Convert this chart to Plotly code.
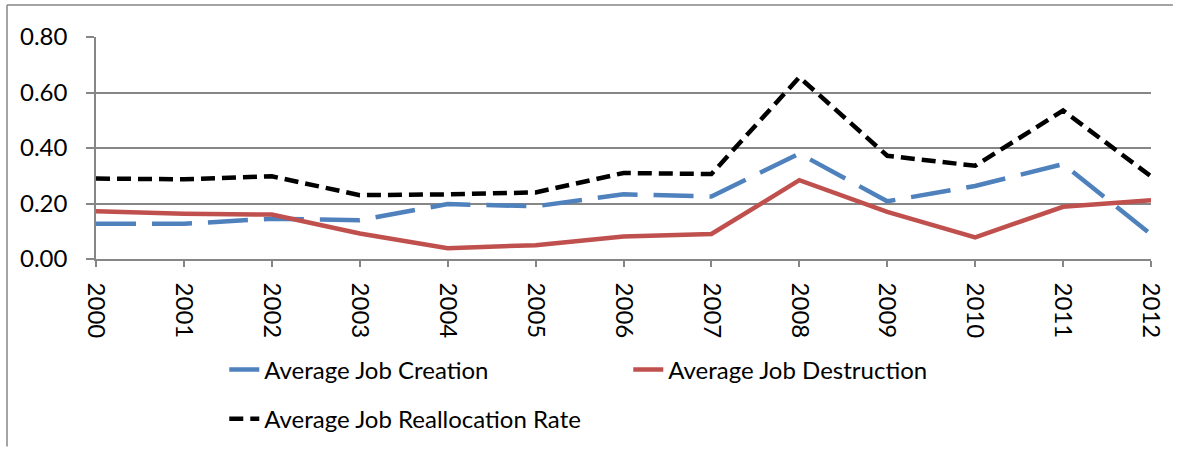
import plotly.graph_objects as go

years = list(range(2000, 2013))
job_creation = [0.127, 0.127, 0.145, 0.140, 0.198, 0.190, 0.233, 0.225, 0.380, 0.208, 0.263, 0.342, 0.089]
job_destruction = [0.172, 0.163, 0.160, 0.092, 0.039, 0.050, 0.081, 0.090, 0.284, 0.170, 0.078, 0.188, 0.212]
job_reallocation = [0.290, 0.287, 0.298, 0.230, 0.233, 0.240, 0.310, 0.306, 0.655, 0.372, 0.336, 0.535, 0.298]
y_ticks = [0.0, 0.2, 0.4, 0.6, 0.8]
y_ticklabels = ["0.00", "0.20", "0.40", "0.60", "0.80"]

FONT = "Lato"
W, H = 1179, 454
ml, mr, mt, mb = 96, 22, 37, 191
pw, ph = W - ml - mr, H - mt - mb

def px_to_paper_x(px):
    return (px - ml) / pw

def px_to_paper_y(py):
    return 1 - (py - mt) / ph

fig = go.Figure()
fig.add_trace(go.Scatter(x=years, y=job_creation, mode="lines", name="Average Job Creation",
                         line=dict(color="#4F81BD", width=4.5, dash="40px,16px"), legend="legend"))
fig.add_trace(go.Scatter(x=years, y=job_destruction, mode="lines", name="Average Job Destruction",
                         line=dict(color="#C0504D", width=4.5), legend="legend"))
fig.add_trace(go.Scatter(x=years, y=job_reallocation, mode="lines", name="Average Job Reallocation Rate",
                         line=dict(color="#000000", width=4.5, dash="14px,7px"), legend="legend2"))

# outer frame (only top and left edges visible in the crop)
frame = dict(color="#868686", width=1.5)
fig.add_shape(type="line", xref="paper", yref="paper",
              x0=px_to_paper_x(6.5), x1=px_to_paper_x(1179), y0=px_to_paper_y(4.5), y1=px_to_paper_y(4.5),
              line=frame, layer="below")
fig.add_shape(type="line", xref="paper", yref="paper",
              x0=px_to_paper_x(6.5), x1=px_to_paper_x(6.5), y0=px_to_paper_y(4.5), y1=px_to_paper_y(454),
              line=frame, layer="below")

legend_common = dict(orientation="h", xanchor="left", yanchor="middle",
                     font=dict(family=FONT, size=24, color="#000000"),
                     bgcolor="rgba(0,0,0,0)", entrywidth=359, entrywidthmode="pixels",
                     itemwidth=30)
fig.update_layout(
    width=W, height=H,
    margin=dict(l=ml, r=mr, t=mt, b=mb),
    paper_bgcolor="white", plot_bgcolor="white",
    font=dict(family=FONT, size=24, color="#000000"),
    showlegend=True,
    legend=dict(x=px_to_paper_x(225), y=px_to_paper_y(376), **legend_common),
    legend2=dict(x=px_to_paper_x(225), y=px_to_paper_y(426), **legend_common),
    xaxis=dict(range=[2000, 2012], tickmode="array", tickvals=years, ticktext=[str(y) for y in years],
               tickangle=90, showgrid=False, showline=True, linecolor="#868686", linewidth=1.5,
               ticks="outside", ticklen=6, tickcolor="#868686", tickwidth=1.5, zeroline=False,
               ticklabelstandoff=11,
               tickfont=dict(family=FONT, size=24, color="#000000")),
    yaxis=dict(range=[0, 0.8], tickmode="array", tickvals=y_ticks, ticktext=y_ticklabels,
               showgrid=True, gridcolor="#868686", gridwidth=1.5, showline=True, linecolor="#868686",
               linewidth=1.5, ticks="outside", ticklen=8, tickcolor="#868686", tickwidth=1.5,
               ticklabelstandoff=14, ticklabelposition="outside",
               zeroline=False, tickfont=dict(family=FONT, size=24, color="#000000")),
)

fig.write_html("out.html")
